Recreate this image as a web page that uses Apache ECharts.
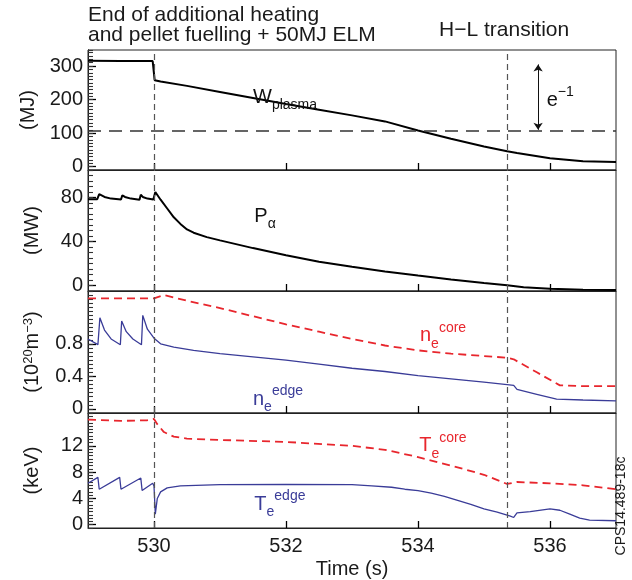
<!DOCTYPE html>
<html>
<head>
<meta charset="utf-8">
<script src="https://cdn.jsdelivr.net/npm/echarts@6/dist/echarts.min.js"></script>
<style>html,body{margin:0;padding:0;background:#fff}#c{width:632px;height:580px}</style>
</head>
<body>
<div id="c"></div>
<script>
// ---- data ----
const xTicks = [530, 532, 534, 536];
const eventTimes = [530, 535.35];
const wTicks = [0, 100, 200, 300];
const pTicks = [0, 40, 80];
const nTicks = [0, 0.4, 0.8];
const tTicks = [0, 4, 8, 12];
const eFoldLevel = 107;
const eArrow = [305, 110];

const tW = [529.0, 529.5, 529.98, 530.0, 530.01, 530.1, 530.5, 531.0, 531.5, 532.0, 532.5, 533.0, 533.5, 534.0, 534.5, 535.0, 535.35, 535.5, 536.0, 536.5, 537.0];
const W  = [316, 315.5, 315, 313, 258, 254, 241, 223, 205, 187, 170, 153, 135, 108, 83, 60, 46, 41, 25, 16, 14];

const tP = [529.0, 529.14, 529.17, 529.25, 529.35, 529.5, 529.52, 529.56, 529.65, 529.78, 529.8, 529.83, 529.9, 529.99, 530.02, 530.1, 530.2, 530.3, 530.4, 530.5, 530.6, 530.8, 531.0, 531.5, 532.0, 532.5, 533.0, 533.5, 534.0, 534.5, 535.0, 535.35, 535.6, 536.0, 536.5, 537.0];
const P  = [78.5, 78.5, 83, 80.5, 79, 78.2, 82, 80.5, 79, 78, 82.5, 80.5, 79, 78.2, 85, 78, 70, 62, 56, 51, 48, 44, 41, 34, 27.5, 21.5, 17, 12.8, 9, 5.5, 2.3, 0.3, -1.5, -3, -3.8, -4.2];

const tNeCore = [529.0, 530.0, 530.15, 530.5, 531.0, 531.5, 532.0, 532.5, 533.0, 533.5, 534.0, 534.5, 535.0, 535.35, 535.45, 535.8, 536.15, 536.5, 537.0];
const neCore  = [1.36, 1.36, 1.40, 1.33, 1.24, 1.14, 1.04, 0.95, 0.86, 0.78, 0.72, 0.68, 0.65, 0.63, 0.61, 0.45, 0.29, 0.28, 0.28];

const tNeEdge = [529.0, 529.15, 529.18, 529.25, 529.35, 529.49, 529.51, 529.58, 529.68, 529.81, 529.83, 529.9, 530.0, 530.1, 530.3, 530.6, 531.0, 531.5, 532.0, 532.5, 533.0, 533.5, 534.0, 534.5, 535.0, 535.35, 535.45, 535.5, 535.8, 536.1, 536.5, 537.0];
const neEdge  = [0.86, 0.79, 1.12, 0.97, 0.86, 0.79, 1.08, 0.95, 0.86, 0.79, 1.15, 0.98, 0.87, 0.80, 0.76, 0.72, 0.68, 0.64, 0.60, 0.55, 0.50, 0.46, 0.41, 0.37, 0.33, 0.30, 0.29, 0.24, 0.18, 0.12, 0.11, 0.10];

const tTeCore = [529.0, 529.5, 529.9, 530.0, 530.05, 530.15, 530.3, 530.5, 531.0, 532.0, 533.0, 533.5, 534.0, 534.5, 535.0, 535.35, 535.5, 536.0, 536.5, 537.0];
const teCore  = [16.0, 15.8, 15.9, 16.1, 15.3, 14.1, 13.4, 13.1, 12.9, 12.6, 12.0, 11.4, 10.3, 9.0, 7.6, 6.2, 6.5, 6.3, 6.0, 5.4];

const tTeEdge = [529.0, 529.15, 529.17, 529.48, 529.5, 529.8, 529.82, 529.98, 530.0, 530.02, 530.05, 530.1, 530.2, 530.4, 531.0, 532.0, 533.0, 533.3, 533.6, 533.8, 534.0, 534.1, 534.2, 534.4, 534.6, 534.8, 535.0, 535.2, 535.4, 535.45, 535.5, 535.7, 536.0, 536.15, 536.3, 536.45, 536.6, 537.0];
const teEdge  = [6.3, 7.2, 5.4, 7.2, 5.4, 7.1, 5.2, 6.3, 5.9, 1.6, 4.0, 5.0, 5.6, 5.9, 6.1, 6.15, 6.1, 5.9, 5.7, 5.4, 5.2, 5.0, 4.8, 4.3, 3.7, 3.1, 2.4, 1.9, 1.3, 1.1, 1.8, 2.0, 2.4, 2.2, 1.6, 1.0, 0.7, 0.6];

// ---- helpers ----
const FONT = 'Liberation Sans, Arial, sans-serif';
const RED = '#e8262d', BLUE = '#3a3c98', INK = '#1a1a1a';
const zip = (t, v) => t.map((x, i) => [x, v[i]]);

const grids = [
  { top: 50, height: 120, min: -10, max: 348, ticks: wTicks, minor: 10, name: '(MJ)' },
  { top: 170, height: 121, min: -5, max: 105, ticks: pTicks, minor: 5, name: '(MW)' },
  { top: 291, height: 122, min: -0.05, max: 1.45, ticks: nTicks, minor: 0.05, name: '{a|(10}{s|20}{a|m}{s|−3}{a|)}' },
  { top: 413, height: 117, min: -0.5, max: 17, ticks: tTicks, minor: 0.5, name: '(keV)' }
];

const grid = grids.map(g => ({ left: 88, right: 16, top: g.top, height: g.height, show: true, borderColor: '#222', borderWidth: 1, backgroundColor: 'transparent' }));

const xAxis = grids.map((g, i) => ({
  type: 'value', gridIndex: i, min: 529, max: 537, position: 'bottom',
  axisLine: { show: true, onZero: false, lineStyle: { color: '#222' } }, splitLine: { show: false },
  axisTick: { show: true, inside: true, length: 7, customValues: xTicks, lineStyle: { color: '#000', width: 1.3 } },
  axisLabel: { show: i === 3, customValues: xTicks, fontSize: 20, fontFamily: FONT, color: INK, margin: 8 },
  name: i === 3 ? 'Time (s)' : '', nameLocation: 'middle', nameGap: 31,
  nameTextStyle: { fontSize: 20, fontFamily: FONT, color: INK }
}));

const yAxis = [];
grids.forEach((g, i) => {
  yAxis.push({
    type: 'value', gridIndex: i, min: g.min, max: g.max, position: 'left',
    axisLine: { show: true, onZero: false, lineStyle: { color: '#222' } }, splitLine: { show: false },
    axisTick: { show: true, inside: true, length: 8, customValues: g.ticks, lineStyle: { color: '#000', width: 1.3 } },
    axisLabel: { customValues: g.ticks, fontSize: 20, fontFamily: FONT, color: INK, margin: 5 },
    name: g.name, nameLocation: 'middle', nameRotate: 90, nameGap: 46,
    nameTextStyle: { fontSize: 20, fontFamily: FONT, color: INK,
      rich: { a: { fontSize: 20, fontFamily: FONT, color: INK }, s: { fontSize: 13, fontFamily: FONT, color: INK, verticalAlign: 'top', lineHeight: 12 } } }
  });
  yAxis.push({
    type: 'value', gridIndex: i, min: g.min, max: g.max, interval: g.minor, position: 'left',
    axisLine: { show: true, onZero: false, lineStyle: { color: '#222' } }, splitLine: { show: false }, axisLabel: { show: false },
    axisTick: { show: true, inside: true, length: 5, lineStyle: { color: '#333', width: 1.1 } }
  });
});

const vLines = {
  symbol: 'none', silent: true, label: { show: false }, animation: false,
  lineStyle: { color: '#555', type: [6, 4], width: 1.2 },
  data: eventTimes.map(t => ({ xAxis: t }))
};

const richBase = (color) => ({
  m: { fontSize: 20, fontFamily: FONT, color, lineHeight: 30, verticalAlign: 'middle' },
  s: { fontSize: 14, fontFamily: FONT, color, lineHeight: 14, verticalAlign: 'bottom' },
  p: { fontSize: 14, fontFamily: FONT, color, lineHeight: 14, verticalAlign: 'top' }
});
function tag(coord, text, color) {
  return { coord, symbolSize: 0, label: { show: true, position: 'right', distance: 0, formatter: text, rich: richBase(color) } };
}

const series = [
  {
    type: 'line', name: 'W', xAxisIndex: 0, yAxisIndex: 0, data: zip(tW, W), showSymbol: false,
    lineStyle: { color: '#000', width: 2 }, itemStyle: { color: '#000' },
    markLine: {
      symbol: 'none', silent: true, animation: false, label: { show: false },
      data: [
        { yAxis: eFoldLevel, lineStyle: { color: '#333', type: [13, 8], width: 1.5 } },
        [{ coord: [535.82, eArrow[0]], symbol: 'arrow', symbolSize: 7, lineStyle: { color: '#111', type: 'solid', width: 1 } },
         { coord: [535.82, eArrow[1]], symbol: 'arrow', symbolSize: 7 }]
      ]
    },
    markPoint: { silent: true, animation: false, data: [
      tag([531.5, 206], '{m|W}{s|plasma}', '#111'),
      tag([535.95, 198], '{m|e}{p|−1}', '#111')
    ] }
  },
  { type: 'line', name: 'v0', xAxisIndex: 0, yAxisIndex: 0, data: [], markLine: vLines },
  {
    type: 'line', name: 'P', xAxisIndex: 1, yAxisIndex: 2, data: zip(tP, P), showSymbol: false,
    lineStyle: { color: '#000', width: 2 }, markLine: vLines,
    markPoint: { silent: true, animation: false, data: [ tag([531.52, 63], '{m|P}{s|α}', '#111') ] }
  },
  {
    type: 'line', name: 'neCore', xAxisIndex: 2, yAxisIndex: 4, data: zip(tNeCore, neCore), showSymbol: false,
    lineStyle: { color: RED, width: 1.8, type: [8, 5] }, markLine: vLines,
    markPoint: { silent: true, animation: false, data: [ tag([534.03, 0.90], '{m|n}{s|e}{p|core}', RED) ] }
  },
  {
    type: 'line', name: 'neEdge', xAxisIndex: 2, yAxisIndex: 4, data: zip(tNeEdge, neEdge), showSymbol: false,
    lineStyle: { color: BLUE, width: 1.3 },
    markPoint: { silent: true, animation: false, data: [ tag([531.5, 0.12], '{m|n}{s|e}{p|edge}', BLUE) ] }
  },
  {
    type: 'line', name: 'teCore', xAxisIndex: 3, yAxisIndex: 6, data: zip(tTeCore, teCore), showSymbol: false,
    lineStyle: { color: RED, width: 1.8, type: [8, 5] }, markLine: vLines,
    markPoint: { silent: true, animation: false, data: [ tag([534.02, 12.0], '{m|T}{s|e}{p|core}', RED) ] }
  },
  {
    type: 'line', name: 'teEdge', xAxisIndex: 3, yAxisIndex: 6, data: zip(tTeEdge, teEdge), showSymbol: false,
    lineStyle: { color: BLUE, width: 1.3 },
    markPoint: { silent: true, animation: false, data: [ tag([531.52, 3.1], '{m|T}{s|e}{p|edge}', BLUE) ] }
  }
];

const chart = echarts.init(document.getElementById('c'), null, { renderer: 'canvas' });
chart.setOption({
  animation: false,
  backgroundColor: '#fff',
  title: [
    { text: 'End of additional heating\nand pellet fuelling + 50MJ ELM', left: 88, top: 5, padding: 0,
      textStyle: { fontSize: 21, fontWeight: 'normal', lineHeight: 20, color: INK, fontFamily: FONT } },
    { text: 'H−L transition', left: 439, top: 20, padding: 0,
      textStyle: { fontSize: 21, fontWeight: 'normal', color: INK, fontFamily: FONT } }
  ],
  graphic: [
    { type: 'text', x: 621, y: 506, rotation: Math.PI / 2,
      style: { text: 'CPS14.489-18c', fontSize: 14, fontFamily: FONT, fill: INK, align: 'center', verticalAlign: 'middle' } }
  ],
  grid, xAxis, yAxis, series
});
</script>
</body>
</html>
